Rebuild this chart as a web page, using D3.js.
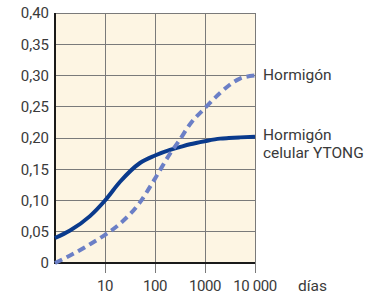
<!DOCTYPE html>
<html><head><meta charset="utf-8">
<script src="https://cdn.jsdelivr.net/npm/d3@7"></script>
<style>body{margin:0;background:#fff}svg{display:block}text{font-family:Roboto,"Open Sans",sans-serif;fill:#3a3a3a}</style>
</head><body><div id="c"></div>
<script>
const xTicks = [1, 10, 100, 1000, 10000];
const xTickLabels = ["10", "100", "1000", "10 000"];
const yTicks = [0, 0.05, 0.10, 0.15, 0.20, 0.25, 0.30, 0.35, 0.40];
const yTickLabels = ["0", "0,05", "0,10", "0,15", "0,20", "0,25", "0,30", "0,35", "0,40"];
const days = [1, 2, 5, 10, 20, 50, 100, 200, 300, 500, 1000, 2000, 3000, 5000, 10000];
const ytong = [0.04, 0.052, 0.075, 0.10, 0.13, 0.16, 0.172, 0.181, 0.185, 0.19, 0.195, 0.199, 0.20, 0.201, 0.202];
const hormigon = [0, 0.012, 0.03, 0.045, 0.063, 0.097, 0.135, 0.175, 0.195, 0.222, 0.248, 0.272, 0.284, 0.295, 0.30];
const seriesLabels = [["Hormigón"], ["Hormigón", "celular YTONG"]];

const W = 382, H = 296;
const svg = d3.select("#c").append("svg").attr("width", W).attr("height", H);
const x = d3.scaleLog().domain([1, 10000]).range([55, 255]);
const y = d3.scaleLinear().domain([0, 0.40]).range([263, 13]);

svg.append("rect").attr("x", x(1)).attr("y", y(0.4)).attr("width", x(10000) - x(1)).attr("height", y(0) - y(0.4)).attr("fill", "#fdf5e3");

// grid
const g = svg.append("g");
g.selectAll("line.h").data(yTicks.slice(1)).enter().append("line")
  .attr("x1", x(1)).attr("x2", x(10000)).attr("y1", d => y(d)).attr("y2", d => y(d))
  .attr("stroke", "#7a7a7a").attr("stroke-width", 1).attr("shape-rendering", "crispEdges");
g.selectAll("line.v").data(xTicks.slice(1)).enter().append("line")
  .attr("x1", d => x(d)).attr("x2", d => x(d)).attr("y1", y(0.4)).attr("y2", y(0) + 10)
  .attr("stroke", "#7a7a7a").attr("stroke-width", 1).attr("shape-rendering", "crispEdges");

// axes lines
svg.append("line").attr("x1", x(1)).attr("x2", x(1)).attr("y1", y(0.4)).attr("y2", y(0) + 1)
  .attr("stroke", "#1a1a1a").attr("stroke-width", 2).attr("shape-rendering", "crispEdges");
svg.append("line").attr("x1", x(1)).attr("x2", x(10000)).attr("y1", y(0)).attr("y2", y(0))
  .attr("stroke", "#1a1a1a").attr("stroke-width", 2).attr("shape-rendering", "crispEdges");

// tick labels
svg.selectAll("text.yl").data(yTicks).enter().append("text")
  .attr("x", 49).attr("y", d => y(d)).attr("dy", "0.35em").attr("text-anchor", "end")
  .attr("font-size", 15).text((d, i) => yTickLabels[i]);
svg.selectAll("text.xl").data(xTicks.slice(1)).enter().append("text")
  .attr("x", d => x(d)).attr("y", 291).attr("text-anchor", "middle")
  .attr("font-size", 15).attr("letter-spacing", -0.4).text((d, i) => xTickLabels[i]);
svg.append("text").attr("x", 298).attr("y", 291).attr("font-size", 15.5).text("días");

const line = d3.line().x(d => x(d[0])).y(d => y(d[1])).curve(d3.curveMonotoneX);
svg.append("path").attr("d", line(days.map((d, i) => [d, ytong[i]])))
  .attr("fill", "none").attr("stroke", "#0a3a8c").attr("stroke-width", 4);
svg.append("path").attr("d", line(days.map((d, i) => [d, hormigon[i]])))
  .attr("fill", "none").attr("stroke", "#6b7fc6").attr("stroke-width", 4).attr("stroke-dasharray", "8,5");

// series labels
svg.append("text").attr("x", 263).attr("y", 80).attr("font-size", 15.5).text(seriesLabels[0][0]);
const t2 = svg.append("text").attr("x", 263).attr("y", 140).attr("font-size", 15.5);
t2.append("tspan").attr("x", 263).attr("dy", 0).text(seriesLabels[1][0]);
t2.append("tspan").attr("x", 263).attr("dy", 18).text(seriesLabels[1][1]);
</script></body></html>
